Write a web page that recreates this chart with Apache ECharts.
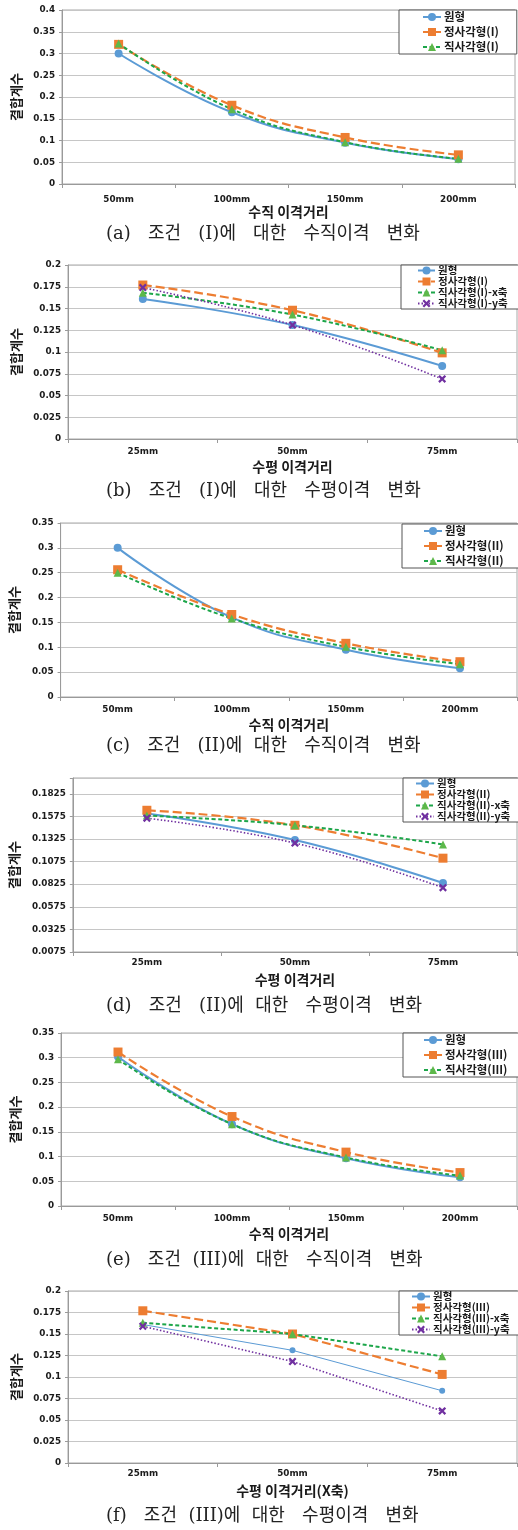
<!DOCTYPE html>
<html><head><meta charset="utf-8">
<script src="https://cdn.jsdelivr.net/npm/echarts@6/dist/echarts.min.js"></script>
<style>html,body{margin:0;padding:0;background:#fff}#c{width:518px;height:1530px}</style>
</head><body><div id="c"></div>
<script>
// ---- categories ----
const catsV = ['50mm', '100mm', '150mm', '200mm'];
const catsH = ['25mm', '50mm', '75mm'];

// ---- (a) 조건 (I) 수직 ----
const a_names = ['원형', '정사각형(I)', '직사각형(I)'];
const a_circle = [0.300, 0.165, 0.095, 0.057];
const a_square = [0.321, 0.181, 0.107, 0.067];
const a_rect   = [0.323, 0.172, 0.096, 0.058];

// ---- (b) 조건 (I) 수평 ----
const b_names = ['원형', '정사각형(I)', '직사각형(I)-x축', '직사각형(I)-y축'];
const b_circle = [0.161, 0.131, 0.084];
const b_square = [0.177, 0.148, 0.099];
const b_rectX  = [0.168, 0.143, 0.102];
const b_rectY  = [0.174, 0.131, 0.069];

// ---- (c) 조건 (II) 수직 ----
const c_names = ['원형', '정사각형(II)', '직사각형(II)'];
const c_circle = [0.300, 0.160, 0.095, 0.058];
const c_square = [0.256, 0.166, 0.108, 0.071];
const c_rect   = [0.250, 0.158, 0.101, 0.066];

// ---- (d) 조건 (II) 수평 ----
const d_names = ['원형', '정사각형(II)', '직사각형(II)-x축', '직사각형(II)-y축'];
const d_circle = [0.1606, 0.1313, 0.0839];
const d_square = [0.1643, 0.1477, 0.1113];
const d_rectX  = [0.1584, 0.1477, 0.1265];
const d_rectY  = [0.1555, 0.1280, 0.0787];

// ---- (e) 조건 (III) 수직 ----
const e_names = ['원형', '정사각형(III)', '직사각형(III)'];
const e_circle = [0.302, 0.1655, 0.0966, 0.058];
const e_square = [0.3115, 0.181, 0.109, 0.0676];
const e_rect   = [0.297, 0.1655, 0.098, 0.0615];

// ---- (f) 조건 (III) 수평 ----
const f_names = ['원형', '정사각형(III)', '직사각형(III)-x축', '직사각형(III)-y축'];
const f_circle = [0.161, 0.131, 0.084];
const f_square = [0.177, 0.150, 0.103];
const f_rectX  = [0.163, 0.150, 0.124];
const f_rectY  = [0.159, 0.118, 0.0605];

// ---- y-axis ranges [min, max, interval] ----
const yA = [0, 0.4, 0.05];
const yB = [0, 0.2, 0.025];
const yC = [0, 0.35, 0.05];
const yD = [0.0075, 0.2, 0.025];
const yE = [0, 0.35, 0.05];
const yF = [0, 0.2, 0.025];

// ---- texts ----
const yName = '결합계수';
const xNames = ['수직 이격거리', '수평 이격거리', '수직 이격거리', '수평 이격거리', '수직 이격거리', '수평 이격거리(X축)'];
const captions = [
  '(a)   조건   (I)에   대한   수직이격   변화',
  '(b)   조건   (I)에   대한   수평이격   변화',
  '(c)   조건   (II)에  대한   수직이격   변화',
  '(d)   조건   (II)에  대한   수평이격   변화',
  '(e)   조건  (III)에  대한   수직이격   변화',
  '(f)   조건  (III)에  대한   수평이격   변화'
];

const XPATH = 'path://M0,2 L2,0 L5,3 L8,0 L10,2 L7,5 L10,8 L8,10 L5,7 L2,10 L0,8 L3,5 Z';
const STY = {
  circle: {line: '#5B9BD5', fill: '#5B9BD5', type: 'solid', width: 2, symbol: 'circle', size: 8},
  circleThin: {line: '#5B9BD5', fill: '#5B9BD5', type: 'solid', width: 1, symbol: 'circle', size: 6},
  square: {line: '#ED7D31', fill: '#ED7D31', type: [9, 4], width: 2.2, symbol: 'rect', size: 9},
  rect: {line: '#1DA64A', fill: '#5DB84A', type: [4, 2.5], width: 2, symbol: 'triangle', size: 8},
  rectY: {line: '#7030A0', fill: '#7030A0', type: [1.5, 2], width: 1.6, symbol: XPATH, size: 8}
};

const panels = [
  {cats: catsV, names: a_names, data: [a_circle, a_square, a_rect], sty: ['circle', 'square', 'rect'], y: yA, smooth: true,
   grid: {left: 62, top: 10, width: 453, height: 174}, labMargin: 11,
   leg: {left: 399, top: 10, pad: [1, 18, 1, 23], iw: 18, lh: 12, gap: 3, fs: 11.5}, cap: 236, fmt: null},
  {cats: catsH, names: b_names, data: [b_circle, b_square, b_rectX, b_rectY], sty: ['circle', 'square', 'rect', 'rectY'], y: yB, smooth: true,
   grid: {left: 68, top: 265, width: 449, height: 174}, labMargin: 8,
   leg: {left: 401, top: 265, pad: [0, 12, 0, 16], iw: 17, lh: 11, gap: 0, fs: 10.5}, cap: 493, fmt: null},
  {cats: catsV, names: c_names, data: [c_circle, c_square, c_rect], sty: ['circle', 'square', 'rect'], y: yC, smooth: true,
   grid: {left: 59, top: 523, width: 458, height: 174}, labMargin: 8,
   leg: {left: 402, top: 524, pad: [1, 18, 1, 21], iw: 18, lh: 12, gap: 3, fs: 11.5}, cap: 748, fmt: null},
  {cats: catsH, names: d_names, data: [d_circle, d_square, d_rectX, d_rectY], sty: ['circle', 'square', 'rect', 'rectY'], y: yD, smooth: true,
   grid: {left: 69, top: 778, width: 448, height: 174}, labMargin: 6,
   leg: {left: 403, top: 778, pad: [0, 10, 0, 12], iw: 18, lh: 11, gap: 0, fs: 10.5}, cap: 1008,
   fmt: v => (v > 0.19 ? '' : v.toFixed(4))},
  {cats: catsV, names: e_names, data: [e_circle, e_square, e_rect], sty: ['circle', 'square', 'rect'], y: yE, smooth: true,
   grid: {left: 61, top: 1033, width: 456, height: 173}, labMargin: 8,
   leg: {left: 403, top: 1033, pad: [1, 18, 1, 20], iw: 18, lh: 12, gap: 3, fs: 11.5}, cap: 1262, fmt: null},
  {cats: catsH, names: f_names, data: [f_circle, f_square, f_rectX, f_rectY], sty: ['circleThin', 'square', 'rect', 'rectY'], y: yF, smooth: false,
   grid: {left: 68, top: 1291, width: 449, height: 172}, labMargin: 6,
   leg: {left: 399, top: 1291, pad: [0, 10, 0, 12], iw: 18, lh: 11, gap: 0, fs: 10.5}, cap: 1518, fmt: null}
];

const TXT = '#1a1a1a';
const option = {
  animation: false,
  backgroundColor: '#fff',
  grid: [], xAxis: [], yAxis: [], legend: [], series: [], graphic: []
};

panels.forEach((p, i) => {
  const tag = '\u200b'.repeat(i + 1);
  option.grid.push(Object.assign({show: true, borderColor: '#A8A8A8', borderWidth: 1, backgroundColor: 'transparent'}, p.grid));
  option.xAxis.push({
    type: 'category', gridIndex: i, data: p.cats, boundaryGap: true,
    name: xNames[i], nameLocation: 'middle', nameGap: i === 0 ? 20 : 21,
    nameTextStyle: {fontFamily: "'Noto Sans CJK KR', sans-serif", fontWeight: 'bold', fontSize: 14, color: TXT},
    axisLine: {show: true, lineStyle: {color: '#9A9A9A', width: 1}},
    axisTick: {show: true, alignWithLabel: false, length: 4, lineStyle: {color: '#9A9A9A'}},
    axisLabel: {margin: p.labMargin, fontFamily: 'DejaVu Sans', fontWeight: 'bold', fontSize: 8.8, color: TXT},
    splitLine: {show: false}
  });
  option.yAxis.push({
    type: 'value', gridIndex: i, min: p.y[0], max: p.y[1], interval: p.y[2],
    name: yName, nameLocation: 'middle', nameRotate: 90, nameGap: p.grid.left - 27,
    nameTextStyle: {fontFamily: "'Noto Sans CJK KR', sans-serif", fontWeight: 'bold', fontSize: 13, color: TXT},
    axisLine: {show: true, lineStyle: {color: '#9A9A9A', width: 1}},
    axisTick: {show: true, length: 3, lineStyle: {color: '#9A9A9A'}},
    axisLabel: {margin: 7, fontFamily: 'DejaVu Sans', fontWeight: 'bold', fontSize: 8.8, color: TXT,
      formatter: p.fmt || (v => String(+v.toFixed(4)))},
    splitLine: {show: true, lineStyle: {color: '#C6C6C6', width: 1}}
  });
  const legData = [];
  p.names.forEach((nm, k) => {
    const s = STY[p.sty[k]];
    const full = nm + tag;
    legData.push(full);
    option.series.push({
      type: 'line', name: full, xAxisIndex: i, yAxisIndex: i, data: p.data[k],
      smooth: p.smooth ? 0.45 : false,
      symbol: s.symbol, symbolSize: s.size, showSymbol: true,
      lineStyle: {color: s.line, width: s.width, type: s.type},
      itemStyle: {color: s.fill, borderColor: s.fill, borderWidth: 0},
      emphasis: {disabled: true}
    });
  });
  option.legend.push({
    data: legData, orient: 'vertical', left: p.leg.left, top: p.leg.top,
    padding: p.leg.pad, itemGap: p.leg.gap, itemWidth: p.leg.iw, itemHeight: 10,
    backgroundColor: '#fff', borderColor: '#555', borderWidth: 1,
    selectedMode: false,
    formatter: n => n.replace(/\u200b/g, ''),
    textStyle: {fontFamily: "'Noto Sans CJK KR', sans-serif", fontWeight: 'bold', fontSize: p.leg.fs, color: TXT,
      lineHeight: p.leg.lh, height: p.leg.lh, verticalAlign: 'middle', padding: [0, 0, 0, -2]}
  });
  option.graphic.push({
    type: 'text', left: 106, top: p.cap - 11,
    style: {text: captions[i], font: "18px 'DejaVu Serif', 'Noto Sans CJK KR', serif", fill: '#222'}
  });
});

const chart = echarts.init(document.getElementById('c'), null, {renderer: 'canvas', width: 518, height: 1530});
chart.setOption(option);
</script>
</body></html>
